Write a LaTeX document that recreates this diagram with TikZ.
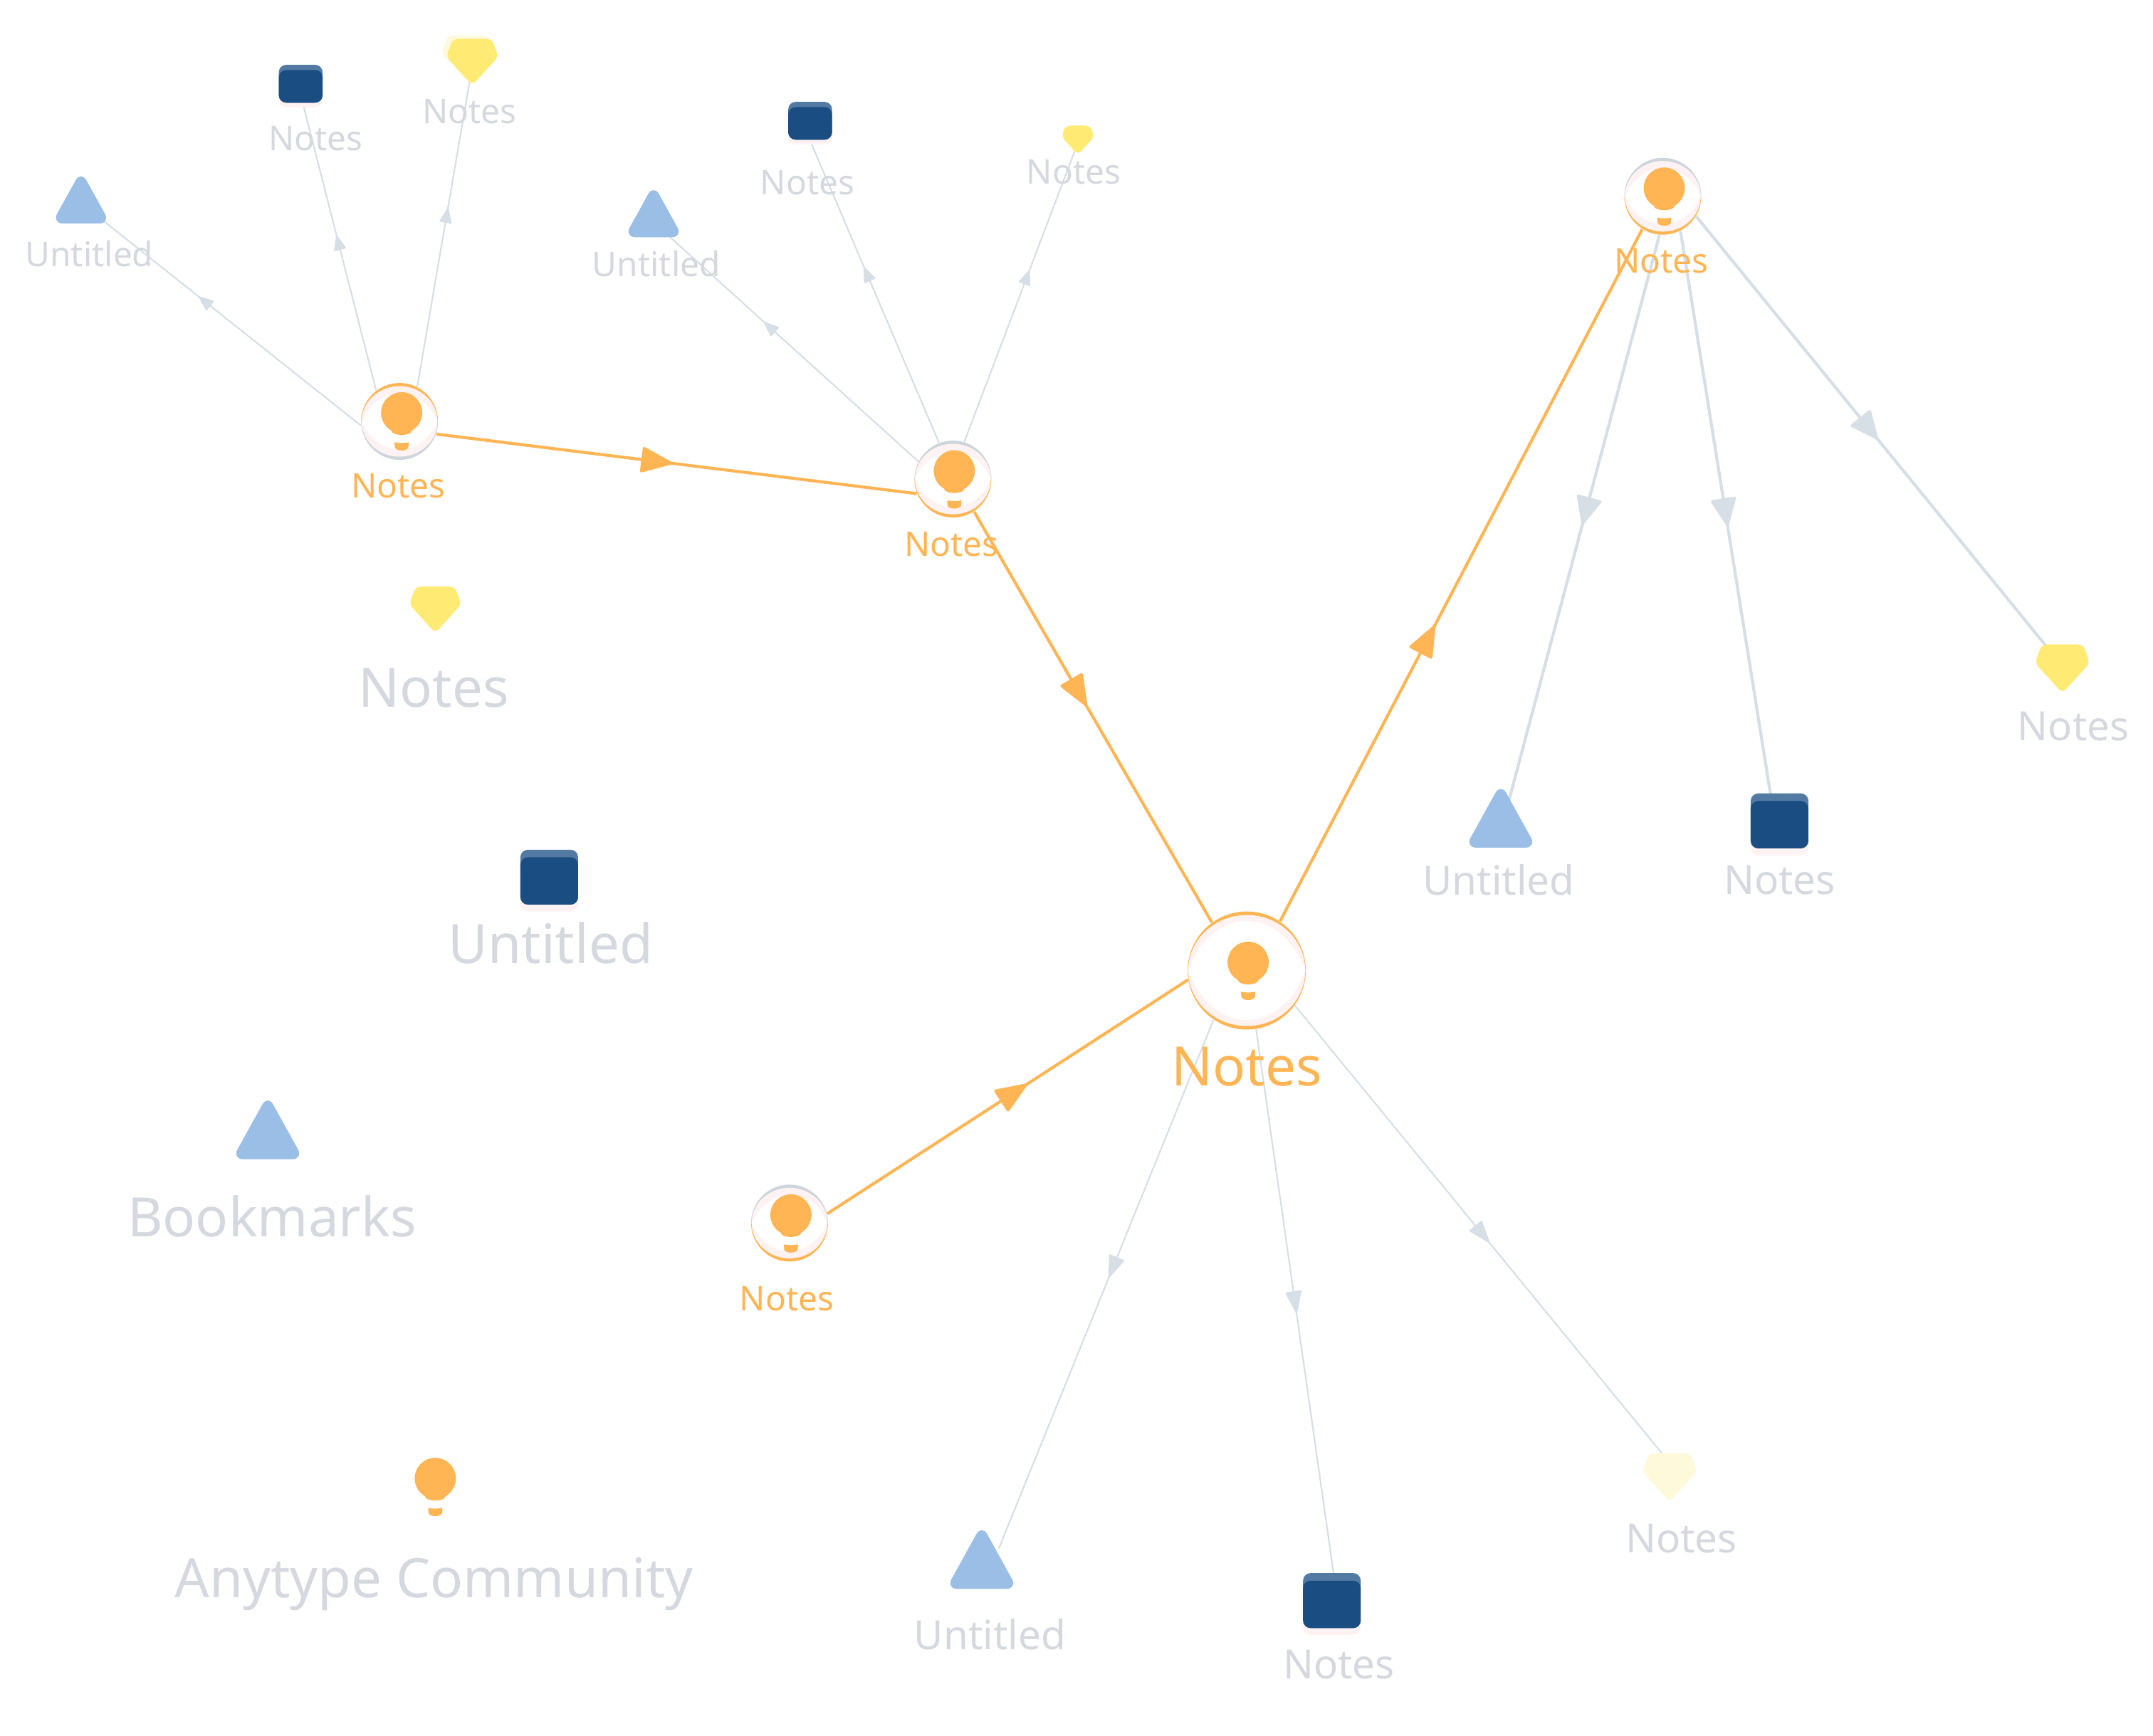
\documentclass[tikz,border=0pt]{standalone}
\usepackage{fontspec}
\setmainfont{Noto Sans}
\usetikzlibrary{arrows.meta}
\usetikzlibrary{decorations.markings}
\definecolor{bulborange}{HTML}{FFB554}
\definecolor{edgegray}{HTML}{D6DEE6}
\definecolor{ringgray}{HTML}{CDD4DC}
\definecolor{textgray}{HTML}{D5D8DE}
\definecolor{palepink}{HTML}{FFF2F2}
\definecolor{triblue}{HTML}{9ABEE6}
\definecolor{boxblue}{HTML}{1A4E82}
\definecolor{bandblue}{HTML}{527AA3}
\definecolor{gemyellow}{HTML}{FFEB74}
\definecolor{gempale}{HTML}{FFF9DC}
\tikzset{
  ballspot/.style={circle,minimum size=1.08cm,inner sep=0pt},
  bigspot/.style={circle,minimum size=1.659cm,inner sep=0pt},
  iconspot/.style={circle,minimum size=.579cm,inner sep=0pt},
  smallspot/.style={circle,minimum size=.386cm,inner sep=0pt},
  tinyspot/.style={circle,minimum size=.309cm,inner sep=0pt},
  smalltext/.style={text=textgray,font=\fontsize{13.6}{16}\selectfont},
  midtext/.style={text=textgray,font=\fontsize{16.1}{19}\selectfont},
  bigtext/.style={text=textgray,font=\fontsize{21.7}{26}\selectfont},
  orangeedge/.style={draw=bulborange,line width=1.2pt,postaction={decorate},
    decoration={markings,mark=at position #1 with {\arrow{Triangle[round,length=13.5pt,width=10.5pt]}}}},
  thickedge/.style={draw=edgegray,line width=1.2pt,postaction={decorate},
    decoration={markings,mark=at position #1 with {\arrow{Triangle[round,length=12pt,width=10.5pt]}}}},
  thinedge/.style={draw=edgegray,line width=.6pt,postaction={decorate},
    decoration={markings,mark=at position #1 with {\arrow{Triangle[round,length=9.5pt,width=6.6pt]}}}},
  tinyedge/.style={draw=edgegray,line width=.6pt,postaction={decorate},
    decoration={markings,mark=at position #1 with {\arrow{Triangle[round,length=6.5pt,width=5pt]}}}},
  pics/bulbicon/.style={code={
    \fill[bulborange] (-7.5,13) .. controls (-7,17.2) and (7,17.2) .. (7.5,13) -- cycle;
    \fill[bulborange] (0,0) circle (15);
    \fill[bulborange] (-5.2,21.5) .. controls (-2,22.2) and (2,22.2) .. (5.2,21.5) -- (4.9,25.5)
      .. controls (3,28.2) and (-3,28.2) .. (-4.9,25.5) -- cycle;
  }},
  pics/ballicon/.style 2 args={code={
    \fill[#1] (-28,0) arc[start angle=180,end angle=360,radius=28] -- cycle;
    \fill[#2] (-28,0) arc[start angle=180,end angle=0,radius=28] -- cycle;
    \fill[palepink] (0,0) ellipse (27.6 and 25.7);
    \fill[white] (-27.6,0) .. controls (-16,-27) and (16,-27) .. (27.6,0)
      .. controls (16,27) and (-16,27) .. cycle;
  }},
  pics/bigballicon/.style={code={
    \fill[bulborange] (0,0) circle (43);
    \fill[palepink] (0,0) ellipse (42.6 and 40.4);
    \fill[white] (-42.6,0) .. controls (-25,-48) and (25,-48) .. (42.6,0)
      .. controls (25,48) and (-25,48) .. cycle;
  }},
  pics/triicon/.style={code={
    \fill[triblue,rounded corners=4.5pt] (-26,20.5) -- (0,-26.5) -- (26,20.5) -- cycle;
  }},
  pics/boxicon/.style={code={
    \fill[palepink,rounded corners=3pt] (-21,-14.5) rectangle (21,25);
    \fill[bandblue,rounded corners=3pt] (-21,-20) rectangle (21,20);
    \fill[boxblue,rounded corners=3pt] (-21,-14.5) rectangle (21,20);
  }},
  pics/gemicon/.style={code={
    \fill[#1,rounded corners=2pt] (-15,-17.5) -- (15,-17.5) -- (20,-4) -- (0,18) -- (-20,-4) -- cycle;
  }},
}

\begin{document}
\begin{tikzpicture}[x=.019286cm,y=-.019286cm]
      \path[fill=white,use as bounding box] (0,0) rectangle (1568,1264.15);
      % spots for the bulbs
      \node[ballspot] (notesA) at (291,307) {};
      \node[ballspot] (notesB) at (694,349) {};
      \node[ballspot] (notesC) at (1211,143) {};
      \node[ballspot] (notesD) at (575,891) {};
      \node[bigspot] (notesE) at (908,707) {};
      % spots for the small icons
      \node[smallspot] (triA) at (59,146) {};
      \node[smallspot] (boxA) at (219,61) {};
      \node[smallspot] (gemA) at (344,45) {};
      \node[smallspot] (triB) at (476,156) {};
      \node[smallspot] (boxB) at (590,88) {};
      \node[tinyspot] (gemB) at (785,102) {};
      \node[iconspot] (triC) at (1093,597) {};
      \node[iconspot] (boxC) at (1296,598) {};
      \node[iconspot] (gemC) at (1502,487) {};
      \node[iconspot] (triE) at (715,1137) {};
      \node[iconspot] (boxE) at (970,1166) {};
      \node[iconspot] (gemE) at (1216,1076) {};
      % edges
      \draw[tinyedge=.6] (notesA.186) -- (triA.313);
      \draw[tinyedge=.53] (notesA.127.7) -- (boxA.273.4);
      \draw[tinyedge=.575] (notesA.63.4) -- (gemA.263.7);
      \draw[tinyedge=.595] (notesB.153.4) -- (triB.293.6);
      \draw[tinyedge=.57] (notesB.111.8) -- (boxB.260.5);
      \draw[tinyedge=.59] (notesB.73.5) -- (gemB.254.7);
      \draw[thickedge=.512] (notesC.265.8) -- (triC.67.2);
      \draw[thickedge=.517] (notesC.297.5) -- (boxC.112.8);
      \draw[thickedge=.512] (notesC.329) -- (gemC.125.2);
      \draw[thinedge=.488] (notesE.236.7) -- (triE.36.9);
      \draw[thinedge=.516] (notesE.279.2) -- (boxE.83.7);
      \draw[thinedge=.526] (notesE.324.2) -- (gemE.104);
      \draw[orangeedge=.491] (notesA.341.6) -- (notesB.202.9);
      \draw[orangeedge=.473] (notesB.303.7) -- (notesE.126.9);
      \draw[orangeedge=.427] (notesE.56.3) -- (notesC.238);
      \draw[orangeedge=.553] (notesD.14) -- (notesE.189.2);
      % bulbs
      \pic at (notesA) {ballicon={bulborange}{ringgray}};
      \pic at (292.5,300.7) {bulbicon};
      \pic at (notesB) {ballicon={ringgray}{bulborange}};
      \pic at (695,343) {bulbicon};
      \pic at (notesC) {ballicon={ringgray}{bulborange}};
      \pic at (1212,137) {bulbicon};
      \pic at (notesD) {ballicon={ringgray}{bulborange}};
      \pic at (576,885) {bulbicon};
      \pic at (notesE) {bigballicon};
      \pic at (909,701) {bulbicon};
      % icons
      \pic[scale=.82] at (triA) {triicon};
      \pic[xscale=.76,yscale=.69] at (boxA) {boxicon};
      \pic[scale=.95] at (340.5,42.5) {gemicon=gempale};
      \pic[scale=.95] at (gemA) {gemicon=gemyellow};
      \pic[scale=.82] at (triB) {triicon};
      \pic[xscale=.76,yscale=.69] at (boxB) {boxicon};
      \pic[scale=.6] at (gemB) {gemicon=gemyellow};
      \pic at (triC) {triicon};
      \pic at (boxC) {boxicon};
      \pic at (gemC) {gemicon=gemyellow};
      \pic at (triE) {triicon};
      \pic at (boxE) {boxicon};
      \pic at (gemE) {gemicon=gempale};
      % icons without edges
      \pic[scale=.95] at (317,444) {gemicon=gemyellow};
      \pic at (400,639) {boxicon};
      \pic at (195,824) {triicon};
      \pic at (317,1077) {bulbicon};
      % labels
      \node[smalltext] (labTriA) at (65,185) {Untitled};
      \node[smalltext] (labBoxA) at (230,101) {Notes};
      \node[smalltext] (labGemA) at (342,81) {Notes};
      \node[smalltext] (labTriB) at (478,192) {Untitled};
      \node[smalltext] (labBoxB) at (588,133) {Notes};
      \node[smalltext] (labGemB) at (782,125.5) {Notes};
      \node[midtext] (labTriC) at (1091.5,641) {Untitled};
      \node[midtext] (labBoxC) at (1296,641) {Notes};
      \node[midtext] (labGemC) at (1510,529) {Notes};
      \node[midtext] (labTriE) at (721,1190.5) {Untitled};
      \node[midtext] (labBoxE) at (975,1212.5) {Notes};
      \node[midtext] (labGemE) at (1224.5,1121) {Notes};
      \node[smalltext,text=bulborange] (labA) at (290,354) {Notes};
      \node[smalltext,text=bulborange] (labB) at (693,396.5) {Notes};
      \node[smalltext,text=bulborange] (labC) at (1210,190) {Notes};
      \node[smalltext,text=bulborange] (labD) at (573,946) {Notes};
      \node[bigtext,text=bulborange] (labE) at (908,777) {Notes};
      \node[bigtext] (labIsoA) at (316,501) {Notes};
      \node[bigtext] (labIsoB) at (401,687) {Untitled};
      \node[bigtext] (labIsoC) at (198,886) {Bookmarks};
      \node[bigtext] (labIsoD) at (316,1154) {Anytype Community};
    \end{tikzpicture}
\end{document}
